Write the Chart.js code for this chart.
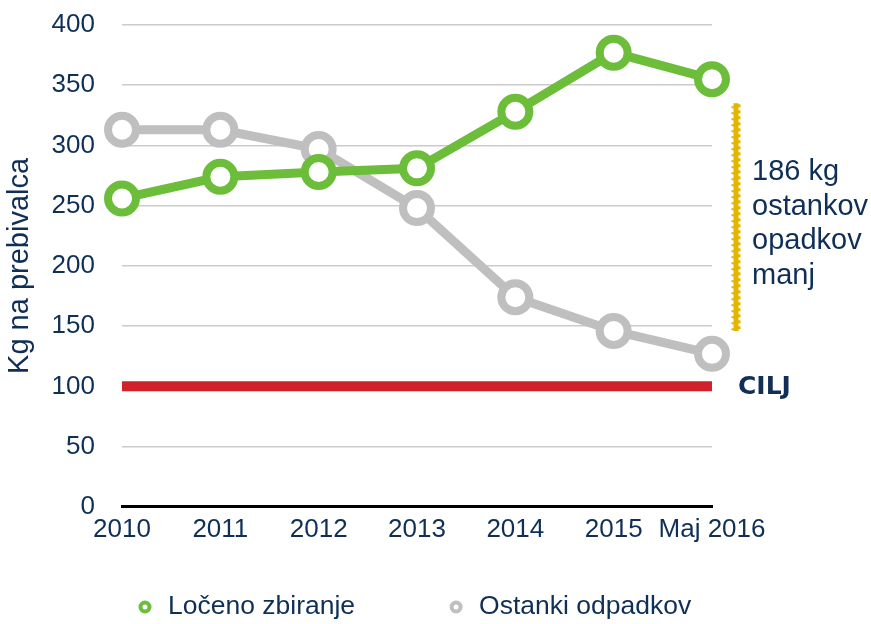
<!DOCTYPE html>
<html>
<head>
<meta charset="utf-8">
<script src="https://cdn.jsdelivr.net/npm/chart.js@4.4.0/dist/chart.umd.min.js"></script>
<style>
  html, body { margin: 0; padding: 0; background: #fff; }
</style>
</head>
<body>
<canvas id="grafico" width="871" height="624"></canvas>
<script>
// podatki
const leta = ['2010', '2011', '2012', '2013', '2014', '2015', 'Maj 2016'];
const locenoZbiranje = [256, 274, 278, 281, 328, 377, 355];
const ostankiOdpadkov = [313, 313, 297, 248, 174, 146, 127];
const cilj = [100, 100, 100, 100, 100, 100, 100];
const ciljNapis = 'CILJ';
const razlikaOd = 335;
const razlikaDo = 146;
const razlikaBesedilo = ['186 kg', 'ostankov', 'opadkov', 'manj'];

const modra = '#0f2f57';
const zelena = '#6cbd3a';
const siva = '#bfbfbf';
const rdeca = '#d0222b';
const rumena = '#e2b500';
const pisava = "'Liberation Sans', Arial, sans-serif";

const dodatki = {
    id: 'dodatki',
    afterDraw(chart) {
        const ctx = chart.ctx;
        const area = chart.chartArea;
        const y = chart.scales.y;
        ctx.save();

        // CILJ
        ctx.fillStyle = modra;
        ctx.font = "bold 25px 'DejaVu Sans', Verdana, sans-serif";
        ctx.textAlign = 'left';
        ctx.textBaseline = 'middle';
        ctx.fillText(ciljNapis, area.right + 26, y.getPixelForValue(cilj[cilj.length - 1]) + 1);

        // rumena crta
        const xb = area.right + 24;
        const y1 = y.getPixelForValue(razlikaOd);
        const y2 = y.getPixelForValue(razlikaDo);
        ctx.strokeStyle = rumena;
        ctx.lineCap = 'butt';
        ctx.lineWidth = 5;
        ctx.beginPath();
        ctx.moveTo(xb, y1);
        ctx.lineTo(xb, y2);
        ctx.stroke();
        ctx.lineWidth = 3;
        ctx.setLineDash([3, 3]);
        ctx.beginPath();
        ctx.moveTo(xb + 3, y1 + 1);
        ctx.lineTo(xb + 3, y2);
        ctx.stroke();
        ctx.setLineDash([2, 4]);
        ctx.beginPath();
        ctx.moveTo(xb - 3, y1 + 3);
        ctx.lineTo(xb - 3, y2);
        ctx.stroke();
        ctx.setLineDash([]);

        // besedilo ob crti
        ctx.font = '29px ' + pisava;
        ctx.fillStyle = modra;
        const sredina = (y1 + y2) / 2 + 7;
        const vrstica = 34.5;
        razlikaBesedilo.forEach((t, i) => {
            ctx.fillText(t, area.right + 40, sredina + (i - (razlikaBesedilo.length - 1) / 2) * vrstica);
        });

        // legenda
        ctx.font = '26.5px ' + pisava;
        const yl = 607;
        let x = 145;
        chart.data.datasets.filter(d => d.label).forEach(d => {
            ctx.beginPath();
            ctx.arc(x, yl, 4.5, 0, Math.PI * 2);
            ctx.fillStyle = '#fff';
            ctx.fill();
            ctx.lineWidth = 4;
            ctx.strokeStyle = d.borderColor;
            ctx.stroke();
            ctx.fillStyle = modra;
            ctx.fillText(d.label, x + 23, yl);
            x += 23 + ctx.measureText(d.label).width + 101;
        });
        ctx.restore();
    }
};

const ctx = document.getElementById('grafico').getContext('2d');
new Chart(ctx, {
    type: 'line',
    data: {
        labels: leta,
        datasets: [
            {
                label: 'Ločeno zbiranje',
                data: locenoZbiranje,
                borderColor: zelena,
                backgroundColor: '#fff',
                borderWidth: 9,
                pointRadius: 14,
                pointBorderWidth: 8,
                pointBackgroundColor: '#fff',
                pointBorderColor: zelena,
                tension: 0
            },
            {
                label: 'Ostanki odpadkov',
                data: ostankiOdpadkov,
                borderColor: siva,
                backgroundColor: '#fff',
                borderWidth: 9,
                pointRadius: 14,
                pointBorderWidth: 8,
                pointBackgroundColor: '#fff',
                pointBorderColor: siva,
                tension: 0
            },
            {
                label: '',
                data: cilj,
                borderColor: rdeca,
                borderWidth: 10,
                borderCapStyle: 'butt',
                pointRadius: 0,
                tension: 0
            }
        ]
    },
    options: {
        responsive: false,
        animation: false,
        layout: {
            autoPadding: false,
            padding: { top: 25, right: 159, bottom: 72, left: 0 }
        },
        plugins: {
            legend: { display: false },
            tooltip: { enabled: false }
        },
        scales: {
            x: {
                offset: false,
                grid: { display: true, drawOnChartArea: false, drawTicks: false },
                border: { display: true, color: '#000', width: 3 },
                ticks: {
                    color: modra,
                    font: { family: pisava, size: 26 },
                    padding: 7,
                    maxRotation: 0,
                    autoSkip: false
                }
            },
            y: {
                min: 0,
                max: 400,
                afterFit(scale) {
                    scale.width = 122;
                    scale.paddingTop = 15;
                    scale.paddingBottom = 15;
                },
                grid: { color: '#cbcbcb', lineWidth: 1.5, drawTicks: false },
                border: { display: false },
                ticks: {
                    stepSize: 50,
                    color: modra,
                    font: { family: pisava, size: 26 },
                    padding: 27
                },
                title: {
                    display: true,
                    text: 'Kg na prebivalca',
                    color: modra,
                    font: { family: pisava, size: 29 },
                    padding: { top: 3, bottom: 0 }
                }
            }
        }
    },
    plugins: [dodatki]
});
</script>
</body>
</html>
